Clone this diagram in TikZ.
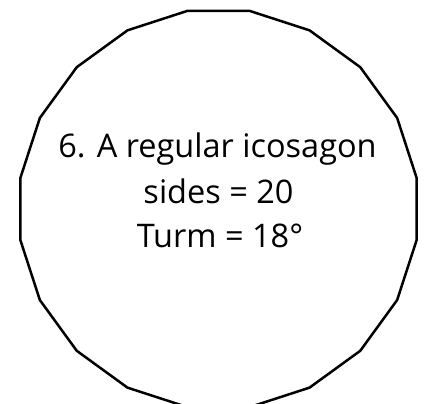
\documentclass[tikz,border=0pt]{standalone}
\usepackage{fontspec}
\setmainfont{Open Sans}
\begin{document}
\begin{tikzpicture}[x=1pt,y=1pt,
  txt/.style={anchor=base,inner sep=0pt,font=\fontsize{32.5}{36}\selectfont}]
\useasboundingbox (0,0) rectangle (427,403);
\coordinate (c) at (218.5,194);
\draw[line width=2.5pt,line join=miter]
  plot[samples=21,domain=0:20,variable=\k] ({218.5+200.5*cos(9+18*\k)},{194+200.5*sin(9+18*\k)}) -- cycle;
\node[txt] (l1) at (217.5,245) {6. A regular icosagon};
\node[txt] (l2) at (218.5,199) {sides = 20};
\node[txt] (l3) at (220,155) {Turm = 18°};
\end{tikzpicture}
\end{document}
